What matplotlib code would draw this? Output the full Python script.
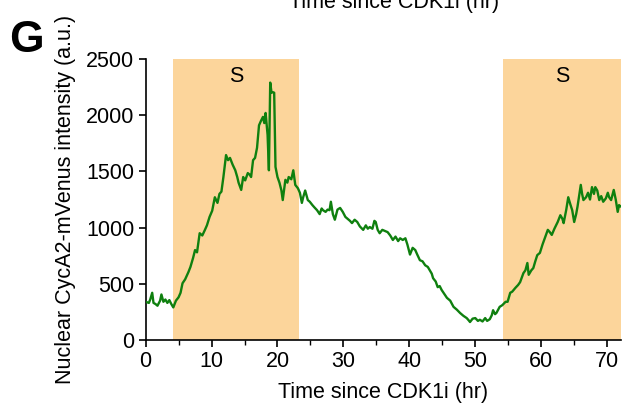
import matplotlib
matplotlib.use("Agg")
import matplotlib.pyplot as plt
from matplotlib.ticker import MultipleLocator

# ---- data ----
time_hr = [0.0, 0.5, 0.7, 1.0, 1.2, 1.5, 1.8, 2.2, 2.4, 2.7, 3.0, 3.3, 3.6, 3.9, 4.2,
           4.6, 5.0, 5.3, 5.6, 6.0, 6.5, 6.8, 7.2, 7.5, 7.8, 8.2, 8.6, 9.0, 9.3, 9.7,
           10.1, 10.5, 10.9, 11.2, 11.5, 11.8, 12.2, 12.5, 12.8, 13.2, 13.6, 13.9, 14.1,
           14.5, 14.8, 15.1, 15.5, 15.8, 16.0, 16.3, 16.6, 16.9, 17.2, 17.5, 17.8, 18.0,
           18.2, 18.5, 18.7, 18.9, 19.1, 19.3, 19.5, 19.7, 20.0, 20.3, 20.6, 20.8, 21.2,
           21.5, 21.7, 22.1, 22.4, 22.7, 23.1, 23.4, 23.7, 23.9, 24.2, 24.6, 24.9, 25.3,
           25.6, 26.0, 26.4, 26.7, 26.9, 27.3, 27.6, 27.9, 28.1, 28.4, 28.7, 29.1, 29.5,
           29.9, 30.3, 30.6, 31.0, 31.3, 31.7, 32.1, 32.5, 33.0, 33.4, 33.7, 34.0, 34.4,
           34.7, 34.9, 35.2, 35.5, 35.9, 36.3, 36.7, 37.1, 37.5, 37.9, 38.3, 38.6, 39.0,
           39.4, 39.7, 40.1, 40.5, 40.9, 41.2, 41.6, 42.0, 42.4, 42.8, 43.1, 43.4, 43.6,
           44.0, 44.3, 44.6, 44.9, 45.3, 45.7, 46.2, 46.7, 47.2, 47.7, 48.2, 48.7, 49.0,
           49.2, 49.6, 50.0, 50.4, 50.7, 51.1, 51.5, 51.8, 52.2, 52.5, 52.7, 53.0, 53.2,
           53.7, 54.1, 54.6, 54.9, 55.3, 55.6, 56.1, 56.5, 56.8, 57.3, 57.6, 57.9, 58.1,
           58.5, 58.8, 59.1, 59.4, 59.8, 60.2, 60.6, 61.0, 61.3, 61.6, 62.0, 62.5, 62.9,
           63.2, 63.4, 63.8, 64.1, 64.4, 64.7, 65.0, 65.3, 65.5, 66.0, 66.2, 66.4, 66.8,
           67.1, 67.4, 67.7, 68.0, 68.2, 68.5, 68.8, 69.1, 69.4, 69.8, 70.1, 70.3, 70.6,
           71.0, 71.3, 71.6, 71.8, 72.0]
intensity = [340, 330, 360, 420, 330, 320, 305, 350, 405, 340, 360, 330, 355, 320, 290,
             350, 380, 420, 505, 540, 605, 650, 730, 800, 780, 950, 930, 980, 1020, 1095,
             1150, 1270, 1220, 1300, 1320, 1450, 1645, 1600, 1620, 1560, 1510, 1450, 1400,
             1335, 1450, 1420, 1485, 1470, 1450, 1600, 1620, 1710, 1910, 1950, 1985, 1930,
             2020, 1825, 1510, 2290, 2200, 2205, 2200, 1540, 1450, 1400, 1330, 1245, 1425,
             1400, 1450, 1430, 1510, 1380, 1350, 1310, 1220, 1270, 1330, 1245, 1230, 1200,
             1180, 1155, 1120, 1170, 1155, 1140, 1160, 1155, 1230, 1120, 1070, 1160, 1175,
             1140, 1095, 1080, 1060, 1040, 1070, 1050, 1010, 980, 1020, 990, 1005, 990,
             1060, 1050, 980, 950, 980, 970, 960, 930, 890, 920, 880, 905, 890,
             905, 850, 760, 820, 800, 760, 710, 700, 665, 650, 620, 590, 550,
             520, 470, 480, 445, 410, 375, 350, 295, 270, 240, 215, 195, 175,
             160, 190, 195, 170, 180, 165, 195, 170, 185, 220, 265, 230, 240,
             295, 310, 340, 340, 420, 430, 465, 490, 515, 595, 620, 685, 580,
             620, 640, 700, 755, 775, 850, 915, 980, 960, 935, 990, 1050, 1110,
             1080, 1040, 1160, 1270, 1210, 1155, 1050, 1120, 1185, 1380, 1300, 1245, 1270,
             1310, 1250, 1360, 1300, 1360, 1330, 1245, 1280, 1230, 1260, 1310, 1270, 1245,
             1335, 1250, 1140, 1200, 1190]

s_phase_start = [4.2, 54.2]
s_phase_end = [23.3, 72.1]
s_label = ["S", "S"]

x_ticks = [0, 10, 20, 30, 40, 50, 60, 70]
y_ticks = [0, 500, 1000, 1500, 2000, 2500]

plt.rcParams['font.family'] = ['Liberation Sans', 'DejaVu Sans']
FS = 15.5

fig = plt.figure(figsize=(6.27, 4.07), dpi=100)
ax = fig.add_axes([145.6/627, 1 - 340/407, (621-145.6)/627, (340-59)/407])

for a, b, lab in zip(s_phase_start, s_phase_end, s_label):
    ax.axvspan(a, b, ymin=0, ymax=1, color='#FCD59B', lw=0, zorder=0)
    ax.text((a + b) / 2, 2340, lab, ha='center', va='center', fontsize=FS, color='black')

ax.plot(time_hr, intensity, color='#0F800F', lw=1.7, zorder=3)

ax.set_xlim(0, 72.1)
ax.set_ylim(0, 2500)
ax.set_xticks(x_ticks)
ax.set_yticks(y_ticks)
ax.xaxis.set_minor_locator(MultipleLocator(5))

for s in ['top', 'right']:
    ax.spines[s].set_visible(False)
for s in ['left', 'bottom']:
    ax.spines[s].set_linewidth(1.2)

ax.tick_params(axis='both', which='major', direction='out', length=5, width=1.2,
               labelsize=FS, pad=3)
ax.tick_params(axis='x', which='minor', direction='out', length=3.5, width=1.0)

ax.set_xlabel('Time since CDK1i (hr)', fontsize=FS, labelpad=7)
ax.set_ylabel('Nuclear CycA2-mVenus intensity (a.u.)', fontsize=FS)
ax.yaxis.set_label_coords(-0.146, 0.5)

fig.text(9/627, 1 - 52/407, 'G', fontsize=32, fontweight='bold', ha='left', va='baseline')
fig.text(394/627, 1 - 8/407, 'Time since CDK1i (hr)', fontsize=FS, ha='center', va='baseline')

fig.savefig('out.png', dpi=100)
